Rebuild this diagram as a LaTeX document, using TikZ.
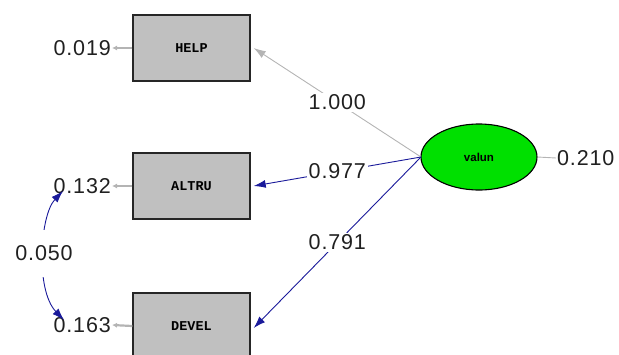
\documentclass[tikz,border=0pt]{standalone}
\usepackage{fontspec}
\setmainfont{Liberation Sans}
\newfontfamily\boxfont{Liberation Mono}
\newfontfamily\numfont[LetterSpace=4]{Liberation Sans}
\usetikzlibrary{arrows.meta,shapes.geometric}
\definecolor{boxgray}{HTML}{C0C0C0}
\definecolor{pathblue}{HTML}{1A1A9A}
\definecolor{pathgray}{HTML}{B4B4B4}
\definecolor{latgreen}{HTML}{00E000}
\definecolor{numcol}{HTML}{202020}
\tikzset{
  obsbox/.style={draw=black!85, line width=1.4pt, fill=boxgray, minimum width=117pt, minimum height=66pt, inner sep=0pt, font=\boxfont\bfseries\fontsize{13.5}{13.5}\selectfont},
  latent/.style={ellipse, draw=black, line width=1.1pt, fill=latgreen, minimum width=116pt, minimum height=66pt, inner sep=0pt, font=\bfseries\fontsize{11.5}{11.5}\selectfont},
  num/.style={font=\numfont\fontsize{21.5}{21.5}\selectfont, text=numcol, inner sep=1pt},
  numlab/.style={num, fill=white, inner sep=2pt},
  bluepath/.style={draw=pathblue, line width=0.9pt, -{Latex[length=12pt,width=8pt]}},
  graypath/.style={draw=pathgray, line width=0.9pt, -{Latex[length=12pt,width=8pt]}},
  errarrow/.style={draw=pathgray, line width=2.2pt, -{Latex[length=5pt,width=5pt]}},
}
\begin{document}
\begin{tikzpicture}[x=1pt,y=-1pt]
\useasboundingbox (0,0) rectangle (619,354);
\begin{scope}
\clip (0,0) rectangle (619,354);
% observed variables
\node[obsbox] (help) at (191.5,48) {HELP};
\node[obsbox] (altru) at (191.5,186) {ALTRU};
\node[obsbox] (devel) at (191.5,326) {DEVEL};
% latent
\node[latent] (valun) at (479,157) {valun};
% error values
\node[num, anchor=east] (e1) at (112,48) {0.019};
\node[num, anchor=east] (e2) at (112,186) {0.132};
\node[num, anchor=east] (e3) at (112,325) {0.163};
\node[num, anchor=west] (e4) at (556,158) {0.210};
% error arrows
\draw[errarrow] (help.west) -- (e1.east);
\draw[errarrow] (altru.west) -- (e2.east);
\draw[errarrow] (devel.west) -- (e3.east);
\draw[draw=pathgray, line width=0.9pt] (valun.east) -- (e4.west);
% loadings
\coordinate (vw) at (421,157);
\draw[graypath] (vw) -- node[numlab] (l1) {1.000} ([xshift=3pt]help.east);
\draw[bluepath] (vw) -- node[numlab] (l2) {0.977} ([xshift=3pt]altru.east);
\draw[bluepath] (vw) -- node[numlab] (l3) {0.791} ([xshift=3pt,yshift=-2pt]devel.east);
% covariance
\coordinate (c1) at (63,191);
\coordinate (c2) at (64,320);
\draw[draw=pathblue, line width=0.9pt, {Latex[length=12pt,width=8pt]}-{Latex[length=12pt,width=8pt]}]
  (c1) .. controls (40,215) and (35,290) .. node[num, fill=white, inner xsep=1pt, inner ysep=16pt] (cv) {0.050} (c2);
\end{scope}
\end{tikzpicture}
\end{document}
